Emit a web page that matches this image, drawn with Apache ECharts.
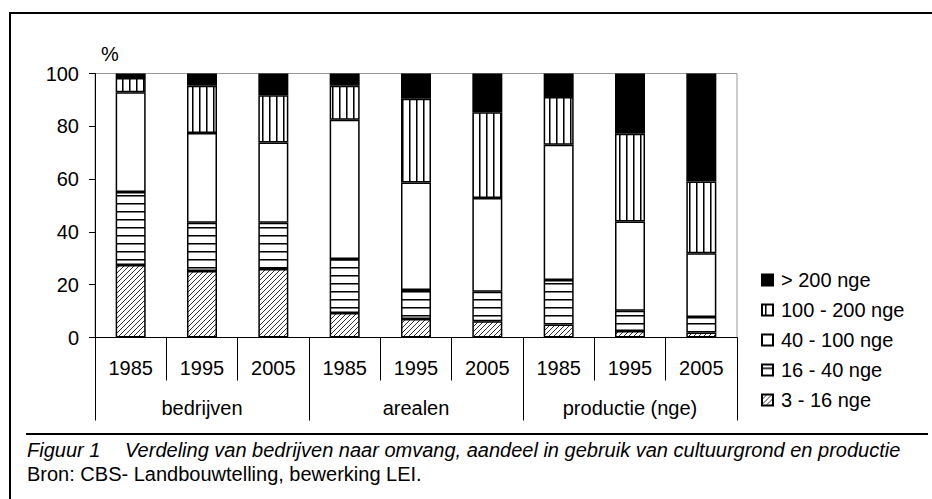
<!DOCTYPE html>
<html>
<head>
<meta charset="utf-8">
<script src="https://cdn.jsdelivr.net/npm/echarts@6/dist/echarts.min.js"></script>
<style>
html,body{margin:0;padding:0;background:#fff;}
#chart{width:932px;height:499px;}
</style>
</head>
<body>
<div id="chart"></div>
<script>
// ---- data ----
const years = ['1985','1995','2005','1985','1995','2005','1985','1995','2005'];
const groups = ['bedrijven','arealen','productie (nge)'];
const yTicks = [0, 20, 40, 60, 80, 100];
const seriesNames = ['3 - 16 nge','16 - 40 nge','40 - 100 nge','100 - 200 nge','> 200 nge'];
const v3_16    = [27.5, 25.2, 25.9, 9.3, 7.0, 6.2, 4.9, 2.5, 1.9];
const v16_40   = [27.6, 18.3, 17.6, 20.4, 11.0, 11.1, 16.9, 7.6, 5.9];
const v40_100  = [37.8, 34.0, 30.4, 52.8, 40.7, 35.5, 51.2, 33.8, 24.1];
const v100_200 = [5.4, 17.9, 17.9, 12.9, 31.7, 32.5, 18.1, 33.3, 27.2];
const v200     = [1.7, 4.6, 8.2, 4.6, 9.6, 14.7, 8.9, 22.8, 40.9];
const captionTitle = 'Figuur 1';
const captionText = 'Verdeling van bedrijven naar omvang, aandeel in gebruik van cultuurgrond en productie';
const sourceText = 'Bron: CBS- Landbouwtelling, bewerking LEI.';

// ---- patterns ----
function makePattern(type) {
  const c = document.createElement('canvas');
  let ctx;
  if (type === 'diag') {
    const w = 5;
    c.width = w; c.height = w;
    ctx = c.getContext('2d');
    ctx.fillStyle = '#fff'; ctx.fillRect(0, 0, w, w);
    ctx.strokeStyle = '#333'; ctx.lineWidth = 1;
    ctx.beginPath();
    ctx.moveTo(0, w); ctx.lineTo(w, 0);
    ctx.moveTo(-1, 1); ctx.lineTo(1, -1);
    ctx.moveTo(w - 1, w + 1); ctx.lineTo(w + 1, w - 1);
    ctx.stroke();
  } else if (type === 'h') {
    c.width = 4; c.height = 8;
    ctx = c.getContext('2d');
    ctx.fillStyle = '#fff'; ctx.fillRect(0, 0, 4, 8);
    ctx.fillStyle = '#000'; ctx.fillRect(0, 3, 4, 1);
    ctx.fillStyle = '#777'; ctx.fillRect(0, 4, 4, 1);
  } else if (type === 'v') {
    c.width = 7; c.height = 4;
    ctx = c.getContext('2d');
    ctx.fillStyle = '#fff'; ctx.fillRect(0, 0, 7, 4);
    ctx.fillStyle = '#000'; ctx.fillRect(3, 0, 1, 4);
    ctx.fillStyle = '#777'; ctx.fillRect(4, 0, 1, 4);
  }
  return { image: c, repeat: 'repeat' };
}

const fills = [makePattern('diag'), makePattern('h'), '#ffffff', makePattern('v'), '#000000'];
const values = [v3_16, v16_40, v40_100, v100_200, v200];

const FONT = '"Liberation Sans", Arial, sans-serif';

const chart = echarts.init(document.getElementById('chart'), null, { renderer: 'svg' });

const series = seriesNames.map((name, i) => ({
  name: name,
  type: 'bar',
  stack: 'total',
  xAxisIndex: 0,
  yAxisIndex: 0,
  barWidth: 30,
  data: values[i],
  itemStyle: { color: fills[i], borderColor: '#000', borderWidth: 1.5 },
  emphasis: { disabled: true }
}));

chart.setOption({
  animation: false,
  backgroundColor: '#fff',
  textStyle: { fontFamily: FONT },
  grid: {
    left: 95, right: 195, top: 73.5, bottom: 161.5,
    show: true, borderColor: '#999', borderWidth: 1, backgroundColor: 'transparent'
  },
  legend: {
    orient: 'vertical',
    left: 756, top: 265,
    icon: 'rect',
    itemWidth: 11, itemHeight: 11,
    itemGap: 10,
    data: seriesNames.slice().reverse(),
    textStyle: { fontFamily: FONT, fontSize: 20, color: '#000', padding: [0, 0, 0, 3] },
    selectedMode: false
  },
  xAxis: [
    {
      type: 'category', data: years, position: 'bottom', gridIndex: 0,
      axisLine: { show: true, lineStyle: { color: '#000', width: 1 } },
      axisTick: { show: true, interval: 0, length: 43, lineStyle: { color: '#000' } },
      axisLabel: { interval: 0, fontSize: 20, color: '#000', fontFamily: FONT, margin: 20 },
      splitLine: { show: false }
    },
    {
      type: 'category', data: groups, position: 'bottom', gridIndex: 0,
      axisLine: { show: false },
      axisTick: { show: true, interval: 0, length: 83, lineStyle: { color: '#000' } },
      axisLabel: { interval: 0, fontSize: 20, color: '#000', fontFamily: FONT, margin: 60 },
      splitLine: { show: false }
    }
  ],
  yAxis: {
    type: 'value', min: yTicks[0], max: yTicks[yTicks.length - 1], interval: 20,
    name: '%', nameLocation: 'end', nameGap: 10,
    nameTextStyle: { fontSize: 20, color: '#000', fontFamily: FONT, padding: [0, 0, 0, 30] },
    axisLine: { show: true, lineStyle: { color: '#000', width: 1 } },
    axisTick: { show: true, length: 6, lineStyle: { color: '#000' } },
    axisLabel: { fontSize: 20, color: '#000', fontFamily: FONT, margin: 16 },
    splitLine: { show: false }
  },
  series: series,
  graphic: [
    { type: 'polyline', silent: true, shape: { points: [[10, 499], [10, 13], [932, 13]] },
      style: { stroke: '#000', lineWidth: 2, fill: null } },
    { type: 'line', silent: true, shape: { x1: 26, y1: 434, x2: 928, y2: 434 },
      style: { stroke: '#000', lineWidth: 2 } },
    { type: 'text', silent: true, x: 27, y: 450,
      style: { text: captionTitle, fontSize: 20, fontStyle: 'italic', fontFamily: FONT, fill: '#000', verticalAlign: 'middle' } },
    { type: 'text', silent: true, x: 125, y: 450,
      style: { text: captionText, fontSize: 20, fontStyle: 'italic', fontFamily: FONT, fill: '#000', verticalAlign: 'middle' } },
    { type: 'text', silent: true, x: 27, y: 474,
      style: { text: sourceText, fontSize: 20, fontFamily: FONT, fill: '#000', verticalAlign: 'middle' } }
  ]
});
</script>
</body>
</html>
